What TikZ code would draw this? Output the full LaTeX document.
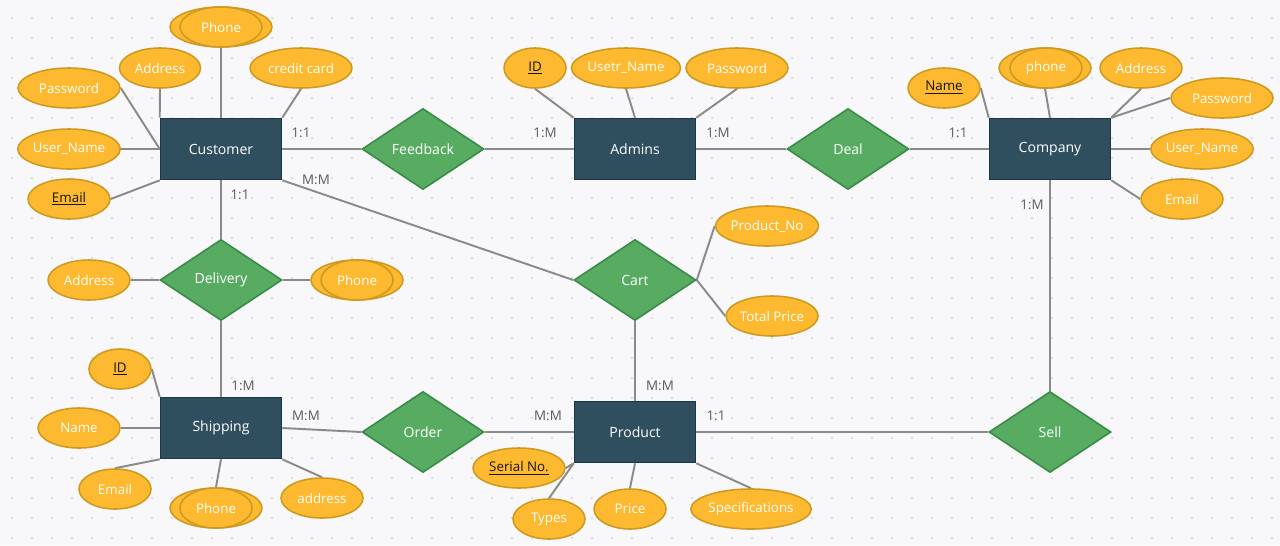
\documentclass[tikz,border=0pt]{standalone}
\usepackage{fontspec}
\setmainfont{Open Sans}
\usetikzlibrary{shapes.geometric}

\pgfdeclarelayer{canvas}
\pgfdeclarelayer{links}
\pgfsetlayers{canvas,links,main}

\definecolor{bgcol}{HTML}{F8F8FA}
\definecolor{dotcol}{HTML}{DDDDE3}
\definecolor{entfill}{HTML}{2F4F5E}
\definecolor{entdraw}{HTML}{1C3745}
\definecolor{relfill}{HTML}{58AC62}
\definecolor{reldraw}{HTML}{3A8A47}
\definecolor{attfill}{HTML}{FDB92F}
\definecolor{attdraw}{HTML}{CE9A22}
\definecolor{linecol}{HTML}{8A8A8A}
\definecolor{lblcol}{HTML}{5A5A5A}
\definecolor{keycol}{HTML}{141414}

\tikzset{
  entity/.style={rectangle, draw=entdraw, fill=entfill, line width=0.9pt,
    minimum width=2.42cm, minimum height=1.22cm, inner sep=0pt,
    text=white, font=\fontsize{8}{10}\selectfont},
  relation/.style={diamond, aspect=1.5, draw=reldraw, fill=relfill, line width=0.9pt,
    minimum width=2.44cm, minimum height=1.62cm, inner sep=0pt,
    text=white, font=\fontsize{8}{10}\selectfont},
  attr/.style={ellipse, draw=attdraw, fill=attfill, line width=0.9pt,
    minimum height=0.8cm, inner sep=0pt,
    text=white, font=\fontsize{7.6}{9}\selectfont},
  keyattr/.style={attr, text=keycol},
  conn/.style={draw=linecol, line width=1.1pt},
  card/.style={text=lblcol, font=\fontsize{7.6}{9}\selectfont, inner sep=0pt},
}
\newcommand{\keytext}[1]{\underline{#1}}

\begin{document}
\begin{tikzpicture}[x=0.02cm, y=-0.02cm]
  % canvas and dot grid
  \begin{pgfonlayer}{canvas}
    \fill[bgcol] (0,0) rectangle (1280,545);
    \foreach \i in {0,...,63} {
      \foreach \j in {0,...,26} {
        \fill[dotcol] (12+20*\i, 18+20*\j) circle[radius=0.8pt];
      }
    }
  \end{pgfonlayer}
  \useasboundingbox (0,0) rectangle (1280,545);

  % entities
  \node[entity] (cust) at (221,149) {Customer};
  \node[entity] (adm)  at (635,149) {Admins};
  \node[entity] (comp) at (1050,149) {Company};
  \node[entity] (ship) at (221,428) {Shipping};
  \node[entity] (prod) at (635,432) {Product};

  % relationships
  \node[relation] (feed) at (423,149) {Feedback};
  \node[relation] (deal) at (848,149) {Deal};
  \node[relation] (deliv) at (221,280) {Delivery};
  \node[relation] (cart) at (635,280) {Cart};
  \node[relation] (order) at (423,432) {Order};
  \node[relation] (sell) at (1050,432) {Sell};

  % Customer attributes
  \node[attr, minimum width=2.04cm] (cphone) at (221,27) {};
  \node[attr, minimum width=1.64cm] (cphonein) at (221,27) {Phone};
  \node[attr, minimum width=1.62cm] (caddr) at (160,68) {Address};
  \node[attr, minimum width=2.04cm] (cpass) at (69,88) {Password};
  \node[attr, minimum width=2.04cm] (ccard) at (301,68) {credit card};
  \node[attr, minimum width=2.04cm] (cuser) at (69,149) {User\_Name};
  \node[keyattr, minimum width=1.64cm] (cmail) at (69,199) {\keytext{Email}};

  % Admins attributes
  \node[keyattr, minimum width=1.24cm] (aid) at (535,68) {\keytext{ID}};
  \node[attr, minimum width=2.04cm] (auser) at (626,68) {Usetr\_Name};
  \node[attr, minimum width=2.04cm] (apass) at (737,68) {Password};

  % Company attributes
  \node[keyattr, minimum width=1.44cm] (kname) at (944,88) {\keytext{Name}};
  \node[attr, minimum width=1.84cm] (kphone) at (1045,68) {};
  \node[attr, minimum width=1.44cm] (kphonein) at (1046,68) {phone};
  \node[attr, minimum width=1.64cm] (kaddr) at (1141,68) {Address};
  \node[attr, minimum width=2.04cm] (kpass) at (1222,98) {Password};
  \node[attr, minimum width=2.04cm] (kuser) at (1202,149) {User\_Name};
  \node[attr, minimum width=1.64cm] (kmail) at (1182,199) {Email};

  % Delivery attributes
  \node[attr, minimum width=1.64cm] (daddr) at (89,280) {Address};
  \node[attr, minimum width=1.84cm] (dphone) at (357,280) {};
  \node[attr, minimum width=1.44cm] (dphonein) at (357,280) {Phone};

  % Cart attributes
  \node[attr, minimum width=2.04cm] (cprod) at (767,226) {Product\_No};
  \node[attr, minimum width=1.84cm] (ctot) at (772,316) {Total Price};

  % Shipping attributes
  \node[keyattr, minimum width=1.24cm] (sid) at (120,369) {\keytext{ID}};
  \node[attr, minimum width=1.64cm] (sname) at (79,428) {Name};
  \node[attr, minimum width=1.44cm] (smail) at (115,489) {Email};
  \node[attr, minimum width=1.84cm] (sphone) at (216,508) {};
  \node[attr, minimum width=1.44cm] (sphonein) at (216,508) {Phone};
  \node[attr, minimum width=1.64cm] (saddr) at (322,498) {address};

  % Product attributes
  \node[keyattr, minimum width=1.84cm] (pser) at (519,468) {\keytext{Serial No.}};
  \node[attr, minimum width=1.44cm] (ptype) at (549,519) {Types};
  \node[attr, minimum width=1.44cm] (pprice) at (630,509) {Price};
  \node[attr, minimum width=2.24cm] (pspec) at (751,509) {Specifications};

  % cardinality labels
  \node[card] (l1) at (301,133) {1:1};
  \node[card] (l2) at (545,133) {1:M};
  \node[card] (l3) at (718,133) {1:M};
  \node[card] (l4) at (958,133) {1:1};
  \node[card] (l5) at (240,195) {1:1};
  \node[card] (l6) at (316,180) {M:M};
  \node[card] (l7) at (243,386) {1:M};
  \node[card] (l8) at (306,416) {M:M};
  \node[card] (l9) at (548,416) {M:M};
  \node[card] (l10) at (660,386) {M:M};
  \node[card] (l11) at (716,416) {1:1};
  \node[card] (l12) at (1032,205) {1:M};

  % connectors, kept behind the shapes
  \begin{pgfonlayer}{links}
    % relationships
    \draw[conn] (cust.east) -- (feed.west);
    \draw[conn] (feed.east) -- (adm.west);
    \draw[conn] (adm.east) -- (deal.west);
    \draw[conn] (deal.east) -- (comp.west);
    \draw[conn] (cust.south) -- (deliv.north);
    \draw[conn] (cust.south east) -- (cart.west);
    \draw[conn] (deliv.south) -- (ship.north);
    \draw[conn] (ship.east) -- (order.west);
    \draw[conn] (order.east) -- (prod.west);
    \draw[conn] (cart.south) -- (prod.north);
    \draw[conn] (prod.east) -- (sell.west);
    \draw[conn] (comp.south) -- (sell.north);
    % Customer
    \draw[conn] (cphone.south) -- (cust.north);
    \draw[conn] (caddr.south) -- (cust.north west);
    \draw[conn] (cpass.east) -- (cust.west);
    \draw[conn] (ccard.south) -- (cust.north east);
    \draw[conn] (cuser.east) -- (cust.west);
    \draw[conn] (cmail.east) -- (cust.south west);
    % Admins
    \draw[conn] (aid.south) -- (adm.north west);
    \draw[conn] (auser.south) -- (adm.north);
    \draw[conn] (apass.south) -- (adm.north east);
    % Company
    \draw[conn] (kname.east) -- (comp.north west);
    \draw[conn] (kphone.south) -- (comp.north);
    \draw[conn] (kaddr.south) -- (comp.north east);
    \draw[conn] (kpass.west) -- (comp.north east);
    \draw[conn] (kuser.west) -- (comp.east);
    \draw[conn] (kmail.west) -- (comp.south east);
    % Delivery
    \draw[conn] (daddr.east) -- (deliv.west);
    \draw[conn] (dphone.west) -- (deliv.east);
    % Cart
    \draw[conn] (cart.east) -- (cprod.west);
    \draw[conn] (cart.east) -- (ctot.west);
    % Shipping
    \draw[conn] (sid.east) -- (ship.north west);
    \draw[conn] (sname.east) -- (ship.west);
    \draw[conn] (smail.north) -- (ship.south west);
    \draw[conn] (sphone.north) -- (ship.south);
    \draw[conn] (saddr.north) -- (ship.south east);
    % Product
    \draw[conn] (pser.east) -- (prod.south west);
    \draw[conn] (ptype.north) -- (prod.south west);
    \draw[conn] (pprice.north) -- (prod.south);
    \draw[conn] (pspec.north) -- (prod.south east);
  \end{pgfonlayer}
\end{tikzpicture}
\end{document}
